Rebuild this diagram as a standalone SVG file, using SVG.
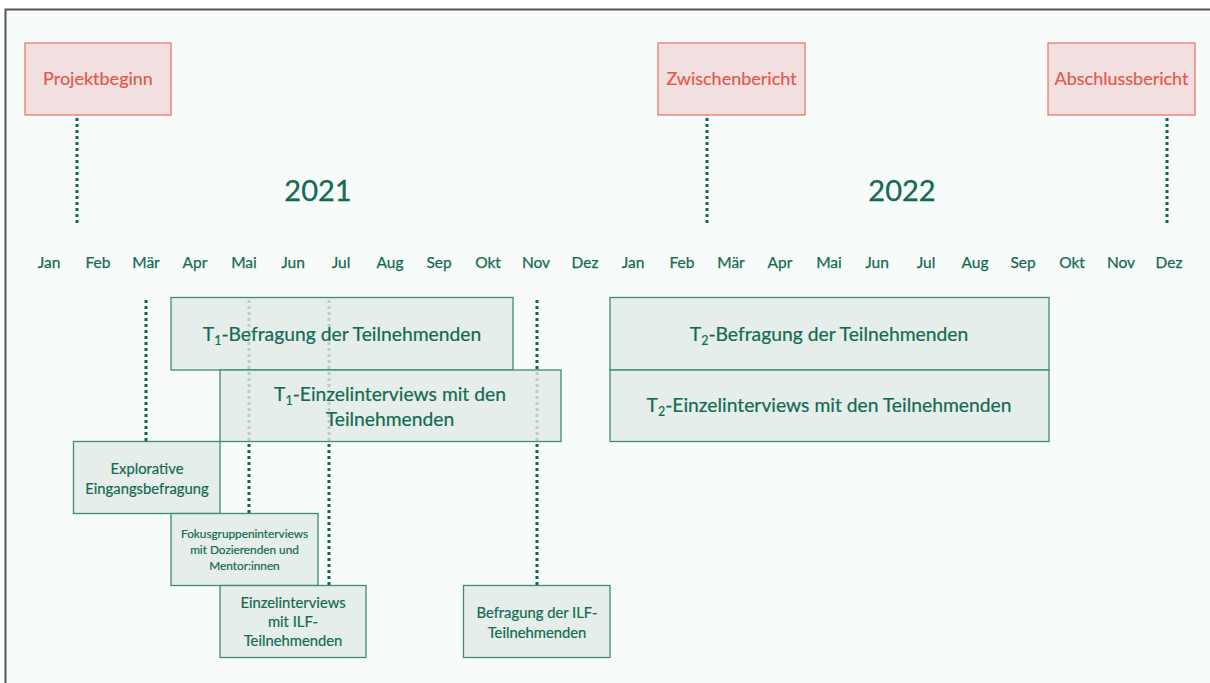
<svg xmlns="http://www.w3.org/2000/svg" width="1210" height="683" viewBox="0 0 1210 683">
<style>
.bg{fill:#f7fbfa}
.ms rect{fill:#f2e0e0;stroke:#ec6f61;stroke-width:1.2}
.ms text{fill:#e5574a;font-family:Lato,"Open Sans","Liberation Sans",sans-serif;font-size:18px;text-anchor:middle;stroke:#e5574a;stroke-width:0.2}
.dot{stroke:#13634f;stroke-width:3;stroke-dasharray:3 3;fill:none}
.yr{fill:#146a53;font-family:Lato,"Open Sans","Liberation Sans",sans-serif;font-size:29px;text-anchor:middle;stroke:#146a53;stroke-width:0.3}
.mo{fill:#146a53;font-family:Lato,"Open Sans","Liberation Sans",sans-serif;font-size:15.5px;text-anchor:middle;stroke:#146a53;stroke-width:0.25}
.box rect{fill:#e0ebe7;fill-opacity:0.8;stroke:#3f8b79;stroke-width:1.3}
.box text{fill:#146a53;font-family:Lato,"Open Sans","Liberation Sans",sans-serif;text-anchor:middle;stroke:#146a53;stroke-width:0.2}
.l{font-size:19.3px}
.m{font-size:14.8px}
.s{font-size:11.8px}
.sub{font-size:12.5px}
</style>
<rect x="0" y="0" width="1210" height="683" fill="#ffffff"/>
<rect class="bg" x="6" y="10" width="1204" height="673"/>
<path d="M5.5 683V9.5H1210" fill="none" stroke="#555555" stroke-width="2"/>

<g id="connectors">
<line class="dot" x1="77" y1="118" x2="77" y2="224"/>
<line class="dot" x1="707" y1="118" x2="707" y2="224"/>
<line class="dot" x1="1167" y1="118" x2="1167" y2="224"/>
<line class="dot" x1="146" y1="300" x2="146" y2="441"/>
<line class="dot" x1="249" y1="300" x2="249" y2="513"/>
<line class="dot" x1="329" y1="300" x2="329" y2="585"/>
<line class="dot" x1="537" y1="300" x2="537" y2="585"/>
</g>

<g id="projektbeginn" class="ms"><rect x="25" y="43" width="146" height="72"/><text x="98" y="85">Projektbeginn</text></g>
<g id="zwischenbericht" class="ms"><rect x="658" y="43" width="147" height="72"/><text x="731.5" y="85">Zwischenbericht</text></g>
<g id="abschlussbericht" class="ms"><rect x="1048" y="43" width="147" height="72"/><text x="1121.5" y="85">Abschlussbericht</text></g>

<g id="years">
<text class="yr" x="318" y="201">2021</text>
<text class="yr" x="902" y="201">2022</text>
</g>

<g id="months" class="mo">
<text x="49" y="268">Jan</text>
<text x="98" y="268">Feb</text>
<text x="146" y="268">Mär</text>
<text x="195" y="268">Apr</text>
<text x="244" y="268">Mai</text>
<text x="293" y="268">Jun</text>
<text x="341" y="268">Jul</text>
<text x="390" y="268">Aug</text>
<text x="439" y="268">Sep</text>
<text x="488" y="268">Okt</text>
<text x="536" y="268">Nov</text>
<text x="585" y="268">Dez</text>
<text x="633" y="268">Jan</text>
<text x="682" y="268">Feb</text>
<text x="731" y="268">Mär</text>
<text x="780" y="268">Apr</text>
<text x="829" y="268">Mai</text>
<text x="877" y="268">Jun</text>
<text x="926" y="268">Jul</text>
<text x="975" y="268">Aug</text>
<text x="1023" y="268">Sep</text>
<text x="1072" y="268">Okt</text>
<text x="1121" y="268">Nov</text>
<text x="1169" y="268">Dez</text>
</g>

<g id="t1-befragung" class="box"><rect x="171" y="297.5" width="342" height="72.5"/><text class="l" x="342" y="341">T<tspan class="sub" dy="4">1</tspan><tspan dy="-4">-Befragung der Teilnehmenden</tspan></text></g>
<g id="t1-einzelinterviews" class="box"><rect x="220" y="370" width="341" height="71.5"/><text class="l" x="390" y="401">T<tspan class="sub" dy="4">1</tspan><tspan dy="-4">-Einzelinterviews mit den</tspan></text><text class="l" x="390" y="426">Teilnehmenden</text></g>
<g id="t2-befragung" class="box"><rect x="610" y="297.5" width="439" height="72.5"/><text class="l" x="829" y="341">T<tspan class="sub" dy="4">2</tspan><tspan dy="-4">-Befragung der Teilnehmenden</tspan></text></g>
<g id="t2-einzelinterviews" class="box"><rect x="610" y="370" width="439" height="71.5"/><text class="l" x="829" y="412">T<tspan class="sub" dy="4">2</tspan><tspan dy="-4">-Einzelinterviews mit den Teilnehmenden</tspan></text></g>
<g id="explorative" class="box"><rect x="73.5" y="441.5" width="146.5" height="72"/><text class="m" x="147" y="474">Explorative</text><text class="m" x="147" y="494">Eingangsbefragung</text></g>
<g id="fokusgruppen" class="box"><rect x="171" y="513.5" width="147" height="72"/><text class="s" x="244.5" y="538">Fokusgruppeninterviews</text><text class="s" x="244.5" y="554">mit Dozierenden und</text><text class="s" x="244.5" y="570">Mentor:innen</text></g>
<g id="einzel-ilf" class="box"><rect x="220" y="585.5" width="146" height="72"/><text class="m" x="293" y="608">Einzelinterviews</text><text class="m" x="293" y="627">mit ILF-</text><text class="m" x="293" y="646">Teilnehmenden</text></g>
<g id="befragung-ilf" class="box"><rect x="463.5" y="585.5" width="146.5" height="72"/><text class="m" x="537" y="618">Befragung der ILF-</text><text class="m" x="537" y="638">Teilnehmenden</text></g>
</svg>
